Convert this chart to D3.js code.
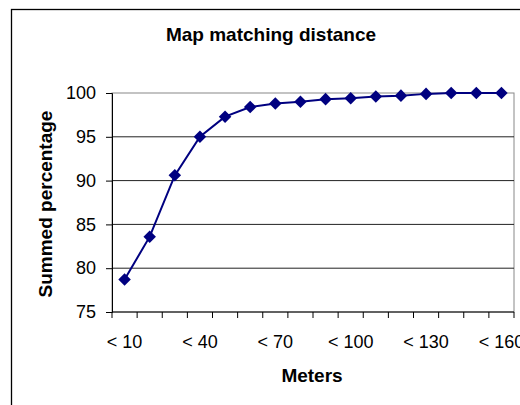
<!DOCTYPE html>
<html>
<head>
<meta charset="utf-8">
<script src="https://cdn.jsdelivr.net/npm/d3@7"></script>
<style>
  body { margin: 0; background: #fff; }
  svg { display: block; font-family: "Liberation Sans", Arial, sans-serif; }
</style>
</head>
<body>
<svg width="520" height="405"></svg>
<script>
  // Chart data
  const categories = ['< 10', '< 20', '< 30', '< 40', '< 50', '< 60', '< 70', '< 80',
    '< 90', '< 100', '< 110', '< 120', '< 130', '< 140', '< 150', '< 160'];
  const values = [78.7, 83.6, 90.6, 95.0, 97.3, 98.4, 98.8, 99.0,
    99.3, 99.4, 99.6, 99.7, 99.9, 100, 100, 100];
  const yTicks = [75, 80, 85, 90, 95, 100];
  const xLabelEvery = 3;

  const svg = d3.select('svg');

  // Outer chart frame (runs off the page on the right and bottom)
  svg.append('rect')
    .attr('x', 11.5).attr('y', 9.5)
    .attr('width', 600).attr('height', 600)
    .attr('fill', 'none').attr('stroke', '#000').attr('stroke-width', 1.3);

  const plot = { left: 112, top: 93, right: 514, bottom: 312 };

  const xScale = d3.scaleBand()
    .domain(categories)
    .range([plot.left, plot.right]);

  const yScale = d3.scaleLinear()
    .domain([75, 100])
    .range([plot.bottom, plot.top]);

  // Plot area border (grey)
  svg.append('rect')
    .attr('x', plot.left).attr('y', plot.top)
    .attr('width', plot.right - plot.left).attr('height', plot.bottom - plot.top)
    .attr('fill', 'none').attr('stroke', '#888').attr('stroke-width', 1);

  // Horizontal gridlines
  svg.append('g').selectAll('line')
    .data(yTicks.filter(d => d > 75 && d < 100))
    .enter().append('line')
      .attr('x1', plot.left).attr('x2', plot.right)
      .attr('y1', d => yScale(d)).attr('y2', d => yScale(d))
      .attr('stroke', '#222').attr('stroke-width', 1);

  // Y axis
  const yAxisG = svg.append('g')
    .attr('transform', `translate(${plot.left},0)`)
    .call(d3.axisLeft(yScale).tickValues(yTicks).tickSize(6).tickPadding(10));
  yAxisG.select('.domain').attr('stroke', '#000');
  yAxisG.selectAll('.tick line').attr('stroke', '#000');
  yAxisG.selectAll('text')
    .attr('font-size', 18).attr('fill', '#000')
    .attr('font-family', '"Liberation Sans", Arial, sans-serif');

  // X axis: ticks at category boundaries
  const xAxisG = svg.append('g')
    .attr('transform', `translate(0,${plot.bottom})`);
  const bounds = d3.range(categories.length + 1)
    .map(i => plot.left + i * xScale.bandwidth());
  xAxisG.append('line')
    .attr('x1', plot.left).attr('x2', plot.right)
    .attr('stroke', '#000');
  xAxisG.selectAll('line.tick')
    .data(bounds)
    .enter().append('line')
      .attr('class', 'tick')
      .attr('x1', d => d).attr('x2', d => d)
      .attr('y1', 0).attr('y2', 6)
      .attr('stroke', '#000');
  xAxisG.selectAll('text')
    .data(categories.filter((d, i) => i % xLabelEvery === 0))
    .enter().append('text')
      .attr('x', d => xScale(d) + xScale.bandwidth() / 2)
      .attr('y', 36)
      .attr('text-anchor', 'middle')
      .attr('font-size', 18)
      .text(d => d);

  // Line
  const line = d3.line()
    .x((d, i) => xScale(categories[i]) + xScale.bandwidth() / 2)
    .y(d => yScale(d));

  svg.append('path')
    .datum(values)
    .attr('d', line)
    .attr('fill', 'none')
    .attr('stroke', '#000080')
    .attr('stroke-width', 2);

  // Diamond markers
  const diamond = d3.symbol().type(d3.symbolDiamond2).size(100);
  svg.append('g').selectAll('path')
    .data(values)
    .enter().append('path')
      .attr('d', diamond)
      .attr('transform', (d, i) =>
        `translate(${xScale(categories[i]) + xScale.bandwidth() / 2},${yScale(d)})`)
      .attr('fill', '#000080');

  // Titles
  svg.append('text')
    .attr('x', 271).attr('y', 41)
    .attr('text-anchor', 'middle')
    .attr('font-size', 19).attr('font-weight', 'bold')
    .text('Map matching distance');

  svg.append('text')
    .attr('x', 312).attr('y', 382)
    .attr('text-anchor', 'middle')
    .attr('font-size', 19).attr('font-weight', 'bold')
    .text('Meters');

  svg.append('text')
    .attr('transform', `translate(52,204) rotate(-90)`)
    .attr('text-anchor', 'middle')
    .attr('font-size', 19).attr('font-weight', 'bold')
    .text('Summed percentage');
</script>
</body>
</html>
